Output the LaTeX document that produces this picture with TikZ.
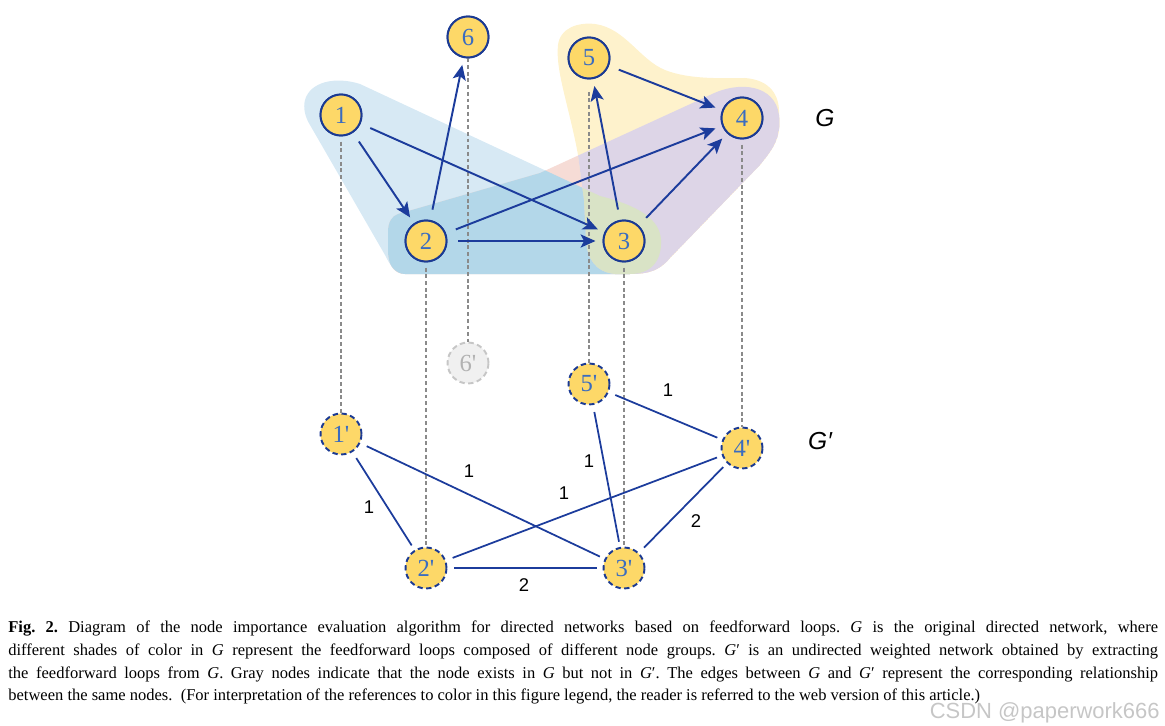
\documentclass[tikz,border=0pt]{standalone}
\usepackage{fontspec}
\setmainfont{Liberation Serif}
\newfontfamily\numfont{Liberation Serif}
\newfontfamily\sansf{Liberation Sans}
\usetikzlibrary{arrows.meta}
\definecolor{lblue}{HTML}{D7E9F4}
\definecolor{dblue}{HTML}{B3D7E9}
\definecolor{pinkr}{HTML}{F6DCD6}
\definecolor{yell}{HTML}{FEF2CC}
\definecolor{purp}{HTML}{DDD5E7}
\definecolor{greenr}{HTML}{D9E3C6}
\definecolor{nodefill}{HTML}{FDD868}
\definecolor{nodeborder}{HTML}{1B3A93}
\definecolor{numblue}{HTML}{3A6CC0}
\definecolor{edgeblue}{HTML}{1C3C9C}
\definecolor{dotgray}{HTML}{8A8A8A}
\def\shapeA{(305,100) .. controls (310,82) and (335,76) .. (360,84) -- (600,196) .. controls (640,206) and (660,220) .. (661,240) .. controls (662,262) and (650,274) .. (630,274) -- (405,274) .. controls (395,274) and (390,265) .. (385,255) -- (310,125) .. controls (305,117) and (303,108) .. (305,100) -- cycle}
\def\shapeB{(398,214) -- (540,173) -- (710,95) .. controls (740,80) and (775,85) .. (779,115) .. controls (782,140) and (770,152) .. (760,165) -- (670,258) .. controls (660,270) and (650,274) .. (630,274) -- (405,274) .. controls (392,274) and (388,262) .. (388,250) -- (388,232) .. controls (388,222) and (392,216) .. (398,214) -- cycle}
\def\shapeC{(578,155) .. controls (570,110) and (555,70) .. (558,45) .. controls (560,28) and (578,22) .. (595,24) .. controls (625,28) and (640,60) .. (665,70) .. controls (690,80) and (725,78) .. (745,78) .. controls (770,80) and (780,95) .. (779,115) .. controls (782,140) and (770,152) .. (760,165) -- (670,258) .. controls (660,270) and (650,274) .. (630,274) -- (615,274) .. controls (595,272) and (587,258) .. (586,240) -- (584,200) .. controls (582,185) and (580,170) .. (578,155) -- cycle}
\begin{document}
\begin{tikzpicture}[x=0.02cm,y=-0.02cm,
  gnode/.style={circle, draw=nodeborder, fill=nodefill, line width=1.1pt, minimum size=0.82cm, inner sep=0pt, font=\numfont\fontsize{14}{14}\selectfont, text=numblue},
  hnode/.style={gnode, dash pattern=on 3pt off 2pt},
  grayn/.style={hnode, draw=gray!45, fill=gray!12, text=gray!60},
  arr/.style={draw=edgeblue, line width=1.1pt, -{Stealth[length=8.5pt,width=7.5pt,inset=2pt]}, shorten <=6pt, shorten >=4pt},
  und/.style={draw=edgeblue, line width=1pt, shorten <=4pt, shorten >=3pt},
  dots/.style={draw=dotgray, line width=1.1pt, dash pattern=on 2.2pt off 1.6pt},
  wlab/.style={font=\sansf\fontsize{10.5}{10.5}\selectfont, text=black, inner sep=0pt},
  glab/.style={font=\sansf\itshape\fontsize{14}{14}\selectfont, text=black, inner sep=0pt},
  capline/.style={anchor=base west, inner sep=0pt, font=\frenchspacing\fontsize{9.4}{11}\selectfont}
]
\useasboundingbox (0,0) rectangle (1165,726);
% shaded loops
\fill[lblue] \shapeA;
\fill[pinkr] \shapeB;
\fill[yell] \shapeC;
\begin{scope}\clip \shapeA; \fill[dblue] \shapeB; \end{scope}
\begin{scope}\clip \shapeB; \fill[purp] \shapeC; \end{scope}
\begin{scope}\clip \shapeA; \fill[greenr] \shapeC; \end{scope}
% nodes of G
\node[gnode] (n1) at (341,115) {1};
\node[gnode] (n2) at (426,241) {2};
\node[gnode] (n3) at (624,241) {3};
\node[gnode] (n4) at (742,118) {4};
\node[gnode] (n5) at (589,58) {5};
\node[gnode] (n6) at (468,37) {6};
% nodes of G'
\node[hnode] (m1) at (341,434) {1\char"27};
\node[hnode] (m2) at (426,568) {2\char"27};
\node[hnode] (m3) at (624,568) {3\char"27};
\node[hnode] (m4) at (742,448) {4\char"27};
\node[hnode] (m5) at (589,384) {5\char"27};
\node[grayn] (m6) at (468,363) {6\char"27};
% correspondence lines
\draw[dots, shorten <=3pt] (n1) -- (m1);
\draw[dots, shorten <=3pt] (n2) -- (m2);
\draw[dots, shorten <=3pt] (n3) -- (m3);
\draw[dots, shorten <=3pt] (n4) -- (m4);
\draw[dots, shorten <=7pt] (n5) -- (m5);
\draw[dots] (n6) -- (m6);
% redraw nodes above dotted lines
\node[gnode] at (n1) {1};
\node[gnode] at (n2) {2};
\node[gnode] at (n3) {3};
\node[gnode] at (n4) {4};
\node[gnode] at (n5) {5};
\node[gnode] at (n6) {6};
% arrows of G
\draw[arr] (n1) -- (n2);
\draw[arr] (n1) -- (n3);
\draw[arr] (n2) -- (n6);
\draw[arr] (n2) -- (n3);
\draw[arr] (n2) -- (n4);
\draw[arr] (n3) -- (n5);
\draw[arr] (n3) -- (n4);
\draw[arr] (n5) -- (n4);
% edges of G'
\draw[und] (m1) -- (m2);
\draw[und] (m1) -- (m3);
\draw[und] (m2) -- (m3);
\draw[und] (m2) -- (m4);
\draw[und] (m3) -- (m4);
\draw[und] (m5) -- (m3);
\draw[und] (m5) -- (m4);
% weights
\node[wlab] (w54) at (668,390) {1};
\node[wlab] (w13) at (469,471) {1};
\node[wlab] (w53) at (589,461) {1};
\node[wlab] (w24) at (564,493) {1};
\node[wlab] (w12) at (369,507) {1};
\node[wlab] (w34) at (696,521) {2};
\node[wlab] (w23) at (524,585) {2};
% graph labels
\node[glab] (lG) at (825,118) {G};
\node[glab] (lGp) at (820,441) {G′};
% caption
\node[capline] (c1) at (8,632) {\makebox[23cm][s]{\textbf{Fig. 2.} Diagram of the node importance evaluation algorithm for directed networks based on feedforward loops. \textit{G} is the original directed network, where}};
\node[capline] (c2) at (8,655) {\makebox[23cm][s]{different shades of color in \textit{G} represent the feedforward loops composed of different node groups. \textit{G}′ is an undirected weighted network obtained by extracting}};
\node[capline] (c3) at (8,678) {\makebox[23cm][s]{the feedforward loops from \textit{G}. Gray nodes indicate that the node exists in \textit{G} but not in \textit{G}′. The edges between \textit{G} and \textit{G}′ represent the corresponding relationship}};
\node[capline] (c4) at (8,700) {between the same nodes.\ \ (For interpretation of the references to color in this figure legend, the reader is referred to the web version of this article.)};
\node[anchor=base east, inner sep=0pt, font=\sansf\fontsize{12.5}{12.5}\selectfont, text=gray!45] (wm) at (1160,718) {CSDN @paperwork666};
\end{tikzpicture}
\end{document}
